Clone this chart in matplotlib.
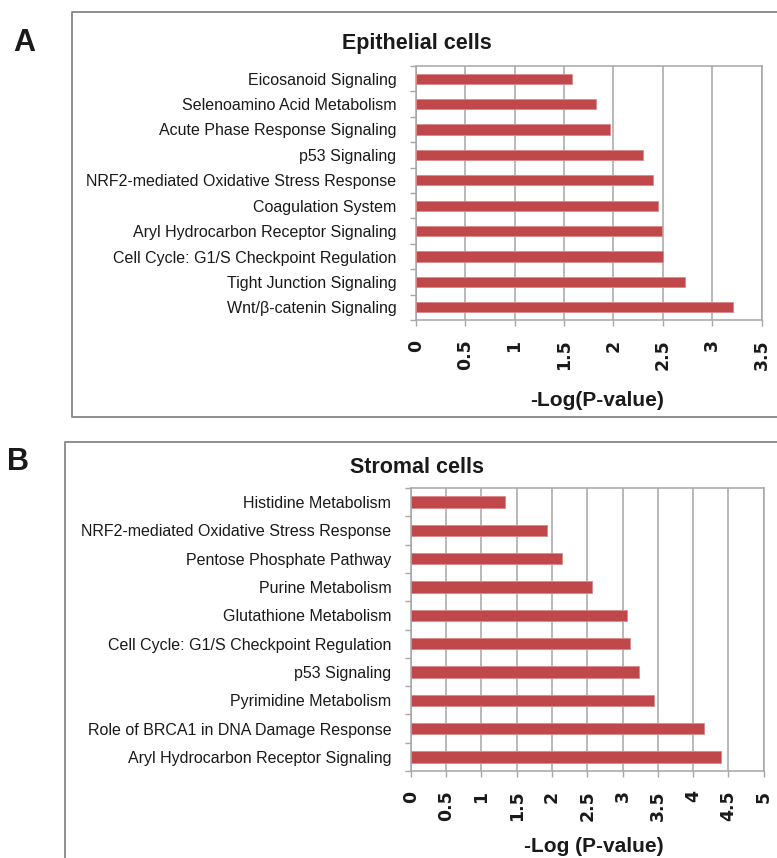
import matplotlib
matplotlib.use("Agg")
import matplotlib.pyplot as plt
from matplotlib.lines import Line2D
from matplotlib.ticker import FixedLocator

# ---------------- data ----------------
epi_categories = [
    "Eicosanoid Signaling",
    "Selenoamino Acid Metabolism",
    "Acute Phase Response Signaling",
    "p53 Signaling",
    "NRF2-mediated Oxidative Stress Response",
    "Coagulation System",
    "Aryl Hydrocarbon Receptor Signaling",
    "Cell Cycle: G1/S Checkpoint Regulation",
    "Tight Junction Signaling",
    "Wnt/β-catenin Signaling",
]
epi_values = [1.58, 1.82, 1.97, 2.30, 2.40, 2.45, 2.49, 2.50, 2.72, 3.21]
epi_ticks = [0, 0.5, 1, 1.5, 2, 2.5, 3, 3.5]
epi_ticklabels = ["0", "0.5", "1", "1.5", "2", "2.5", "3", "3.5"]

str_categories = [
    "Histidine Metabolism",
    "NRF2-mediated Oxidative Stress Response",
    "Pentose Phosphate Pathway",
    "Purine Metabolism",
    "Glutathione Metabolism",
    "Cell Cycle: G1/S Checkpoint Regulation",
    "p53 Signaling",
    "Pyrimidine Metabolism",
    "Role of BRCA1 in DNA Damage Response",
    "Aryl Hydrocarbon Receptor Signaling",
]
str_values = [1.34, 1.93, 2.15, 2.57, 3.06, 3.10, 3.24, 3.44, 4.15, 4.39]
str_ticks = [0, 0.5, 1, 1.5, 2, 2.5, 3, 3.5, 4, 4.5, 5]
str_ticklabels = ["0", "0.5", "1", "1.5", "2", "2.5", "3", "3.5", "4", "4.5", "5"]

titles = ["Epithelial cells", "Stromal cells"]
xlabels = ["-Log(P-value)", "-Log (P-value)"]
panel_letters = ["A", "B"]

# ---------------- style ----------------
W, H = 777, 858
BAR = "#C0474A"
GRID = "#A6A6A6"
BOX = "#8E8E8E"
LABEL_FONT = ["Liberation Sans", "DejaVu Sans"]
TICK_FONT = ["DejaVu Sans"]

fig = plt.figure(figsize=(W / 100, H / 100), dpi=100)


def fx(px):
    return px / W


def fy(py):
    return 1 - py / H


def make_panel(rect_px, cats, vals, ticks, ticklabels):
    l, r, t, b = rect_px
    ax = fig.add_axes([fx(l), fy(b), (r - l) / W, (b - t) / H])
    n = len(cats)
    ypos = list(range(n))
    ax.barh(ypos, vals, height=0.4, color=BAR, edgecolor="#D98A8C",
            linewidth=0.6, zorder=3)
    ax.set_ylim(n - 0.5, -0.5)
    ax.set_xlim(ticks[0], ticks[-1])
    ax.set_yticks(ypos)
    ax.set_yticklabels(cats, fontfamily=LABEL_FONT, fontsize=11.5,
                       color="#1a1a1a")
    ax.yaxis.set_minor_locator(FixedLocator([i + 0.5 for i in range(-1, n)]))
    ax.tick_params(axis="y", which="major", length=0, pad=14)
    ax.tick_params(axis="y", which="minor", length=4, width=1.0, color=GRID)
    ax.set_xticks(ticks)
    ax.set_xticklabels(ticklabels, fontfamily=TICK_FONT, fontweight="bold",
                       fontsize=12.5, rotation=90, color="#1a1a1a")
    ax.tick_params(axis="x", which="major", length=4, width=1.0, color=GRID,
                   pad=10)
    ax.grid(axis="x", color=GRID, linewidth=1.1, zorder=0)
    for s in ax.spines.values():
        s.set_color(GRID)
        s.set_linewidth(1.1)
    ax.set_axisbelow(True)
    return ax


axA = make_panel((415.7, 761.7, 66, 320), epi_categories, epi_values,
                 epi_ticks, epi_ticklabels)
axB = make_panel((410.7, 763.7, 488, 771), str_categories, str_values,
                 str_ticks, str_ticklabels)


# panel boxes (open to the right / bottom as in the source figure)
def box_line(xs, ys):
    fig.add_artist(Line2D([fx(x) for x in xs], [fy(y) for y in ys],
                          color=BOX, linewidth=1.4, transform=fig.transFigure))


box_line([800, 72, 72, 800], [12, 12, 417, 417])
box_line([800, 65, 65], [442, 442, 900])

# titles
fig.text(fx(417), fy(43), titles[0], fontfamily=LABEL_FONT, fontweight="bold",
         fontsize=15.5, ha="center", va="center", color="#1a1a1a")
fig.text(fx(417), fy(467), titles[1], fontfamily=LABEL_FONT, fontweight="bold",
         fontsize=15.5, ha="center", va="center", color="#1a1a1a")

# axis labels
fig.text(fx(597), fy(401), xlabels[0], fontfamily=LABEL_FONT,
         fontweight="bold", fontsize=15, ha="center", va="center",
         color="#1a1a1a")
fig.text(fx(594), fy(847), xlabels[1], fontfamily=LABEL_FONT,
         fontweight="bold", fontsize=15, ha="center", va="center",
         color="#1a1a1a")

# panel letters
fig.text(fx(24), fy(43), panel_letters[0], fontfamily=LABEL_FONT,
         fontweight="bold", fontsize=22, ha="center", va="center",
         color="#1a1a1a")
fig.text(fx(18), fy(462), panel_letters[1], fontfamily=LABEL_FONT,
         fontweight="bold", fontsize=22, ha="center", va="center",
         color="#1a1a1a")

fig.savefig("out.png", dpi=100, facecolor="white")
